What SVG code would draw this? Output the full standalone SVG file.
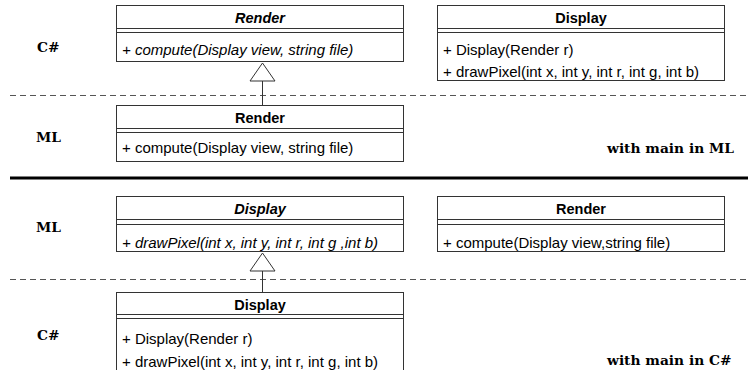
<svg xmlns="http://www.w3.org/2000/svg" width="748" height="370" viewBox="0 0 748 370">
<style>
.box{fill:#fff;stroke:#333;stroke-width:1}
.div{stroke:#333;stroke-width:1}
.hd{font-family:"Liberation Sans",Arial,sans-serif;font-size:14.5px;font-weight:bold;text-anchor:middle;fill:#000}
.m{font-family:"Liberation Sans",Arial,sans-serif;font-size:15px;fill:#000}
.it{font-style:italic}
.lbl{font-family:"DejaVu Serif",serif;font-size:13.8px;font-weight:bold;fill:#000}
.dash{stroke:#555;stroke-width:1;stroke-dasharray:6 4;fill:none}
.gen{stroke:#333;stroke-width:1;fill:none}
.tri{fill:#fff;stroke:#333;stroke-width:1}
</style>
<g id="separators">
<line class="dash" x1="10" y1="95.5" x2="748" y2="95.5"/>
<line class="dash" x1="10" y1="279.5" x2="748" y2="279.5"/>
<line x1="10" y1="178" x2="748" y2="178" stroke="#000" stroke-width="3"/>
</g>
<g id="labels">
<text class="lbl" x="37" y="52">C#</text>
<text class="lbl" x="36" y="142">ML</text>
<text class="lbl" x="36" y="232">ML</text>
<text class="lbl" x="37" y="340">C#</text>
<text class="lbl" x="607" y="153">with main in ML</text>
<text class="lbl" x="607" y="365">with main in C#</text>
</g>
<g id="render-cs">
<rect class="box" x="116.5" y="5.5" width="287" height="56"/>
<line class="div" x1="116.5" y1="28.5" x2="403.5" y2="28.5"/>
<line class="div" x1="116.5" y1="32.5" x2="403.5" y2="32.5"/>
<text class="hd it" x="260" y="23">Render</text>
<text class="m it" x="122" y="55">+ compute(Display view, string file)</text>
</g>
<g id="display-cs">
<rect class="box" x="437.5" y="5.5" width="287" height="75"/>
<line class="div" x1="437.5" y1="28.5" x2="724.5" y2="28.5"/>
<line class="div" x1="437.5" y1="32.5" x2="724.5" y2="32.5"/>
<text class="hd" x="581" y="23">Display</text>
<text class="m" x="443" y="55">+ Display(Render r)</text>
<text class="m" x="443" y="77">+ drawPixel(int x, int y, int r, int g, int b)</text>
</g>
<g id="render-ml">
<rect class="box" x="116.5" y="105.5" width="287" height="56"/>
<line class="div" x1="116.5" y1="128.5" x2="403.5" y2="128.5"/>
<line class="div" x1="116.5" y1="132.5" x2="403.5" y2="132.5"/>
<text class="hd" x="260" y="123">Render</text>
<text class="m" x="122" y="153">+ compute(Display view, string file)</text>
</g>
<g id="display-ml">
<rect class="box" x="116.5" y="196.5" width="287" height="55"/>
<line class="div" x1="116.5" y1="219.5" x2="403.5" y2="219.5"/>
<line class="div" x1="116.5" y1="224.5" x2="403.5" y2="224.5"/>
<text class="hd it" x="260" y="214">Display</text>
<text class="m it" x="122" y="248">+ drawPixel(int x, int y, int r, int g ,int b)</text>
</g>
<g id="render-ml2">
<rect class="box" x="437.5" y="196.5" width="287" height="55"/>
<line class="div" x1="437.5" y1="219.5" x2="724.5" y2="219.5"/>
<line class="div" x1="437.5" y1="224.5" x2="724.5" y2="224.5"/>
<text class="hd" x="581" y="214">Render</text>
<text class="m" x="443" y="248">+ compute(Display view,string file)</text>
</g>
<g id="display-cs2">
<rect class="box" x="116.5" y="292.5" width="287" height="100"/>
<line class="div" x1="116.5" y1="314.5" x2="403.5" y2="314.5"/>
<line class="div" x1="116.5" y1="318.5" x2="403.5" y2="318.5"/>
<text class="hd" x="260" y="310">Display</text>
<text class="m" x="122" y="344">+ Display(Render r)</text>
<text class="m" x="122" y="367">+ drawPixel(int x, int y, int r, int g, int b)</text>
</g>
<g id="connectors">
<line class="gen" x1="262.5" y1="81" x2="262.5" y2="105.5"/>
<polygon class="tri" points="262.5,63 250,81 275,81"/>
<line class="gen" x1="262.5" y1="271" x2="262.5" y2="292.5"/>
<polygon class="tri" points="262.5,253 250,271 275,271"/>
</g>
</svg>
